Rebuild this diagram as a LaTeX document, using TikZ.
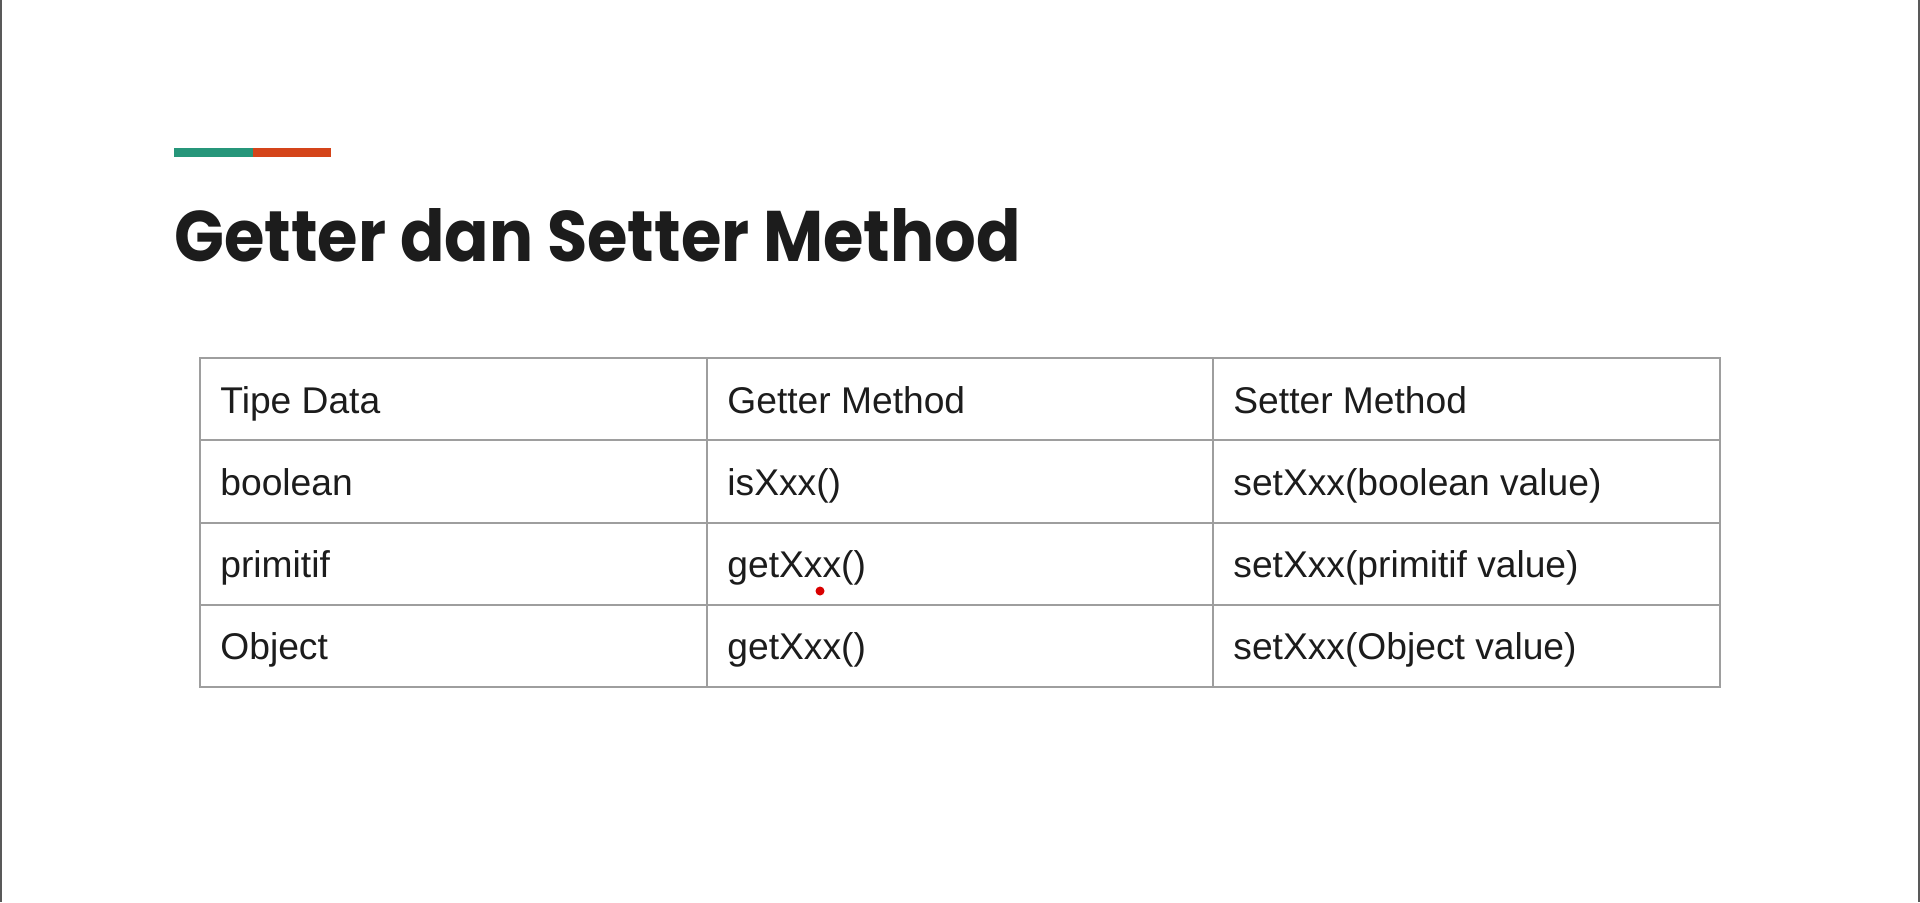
\documentclass[tikz,border=0pt]{standalone}
\usepackage{fontspec}
\setmainfont{Liberation Sans}
\newfontfamily\titlefont[FakeStretch=0.915]{Poppins}
\usetikzlibrary{calc, positioning}
\definecolor{barteal}{HTML}{26967A}
\definecolor{barorange}{HTML}{D4441A}
\definecolor{gridgray}{HTML}{9E9E9E}
\definecolor{inkblack}{HTML}{1C1C1C}

\begin{document}
\begin{tikzpicture}[x=0.5pt,y=-0.5pt,
		cell/.style={anchor=base west,inner sep=0pt,text=inkblack,font=\fontsize{18.6}{20}\selectfont},
		grid/.style={draw=gridgray,line width=1pt}]
	\useasboundingbox[fill=white] (0,0) rectangle (1920,902);
	\draw[line width=1pt,black!65] (1,0)--(1,902) (1919,0)--(1919,902);
	% accent bar and title
	\fill[barteal] (174,148) rectangle (253,157);
	\fill[barorange] (253,148) rectangle (331,157);
	\node[anchor=base west,inner sep=0pt,text=inkblack,
		font=\titlefont\bfseries\fontsize{35.8}{40}\selectfont] (title) at (174,261) {Getter dan Setter Method};
	% table frame
	\coordinate (tl) at (200,358);
	\coordinate (br) at (1720,687);
	\coordinate (c1) at (707,0);
	\coordinate (c2) at (1213,0);
	\draw[grid] (tl) rectangle (br);
	\draw[grid] (c1|-tl)--(c1|-br) (c2|-tl)--(c2|-br);
	\foreach \R in {1,2,3}
		{
			\draw[grid] (200,{358+82.25*\R}) coordinate (r\R) -- (1720,{358+82.25*\R});
		}
	\foreach \A/\B/\C [count=\i from 0] in {Tipe Data/Getter Method/Setter Method,
		boolean/isXxx()/setXxx(boolean value),
		primitif/getXxx()/setXxx(primitif value),
		Object/getXxx()/setXxx(Object value)}
		{
			\node[cell] (type\i) at (220,{413+82.25*\i}) {\A};
			\node[cell] (get\i) at (727,{413+82.25*\i}) {\B};
			\node[cell] (set\i) at (1233,{413+82.25*\i}) {\C};
		}
	\fill[red!85!black] (820,591) circle (4.5);
\end{tikzpicture}
\end{document}
